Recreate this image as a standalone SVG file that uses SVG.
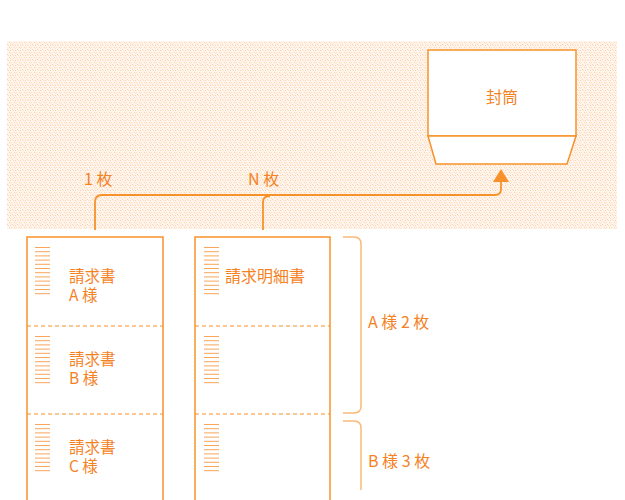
<svg xmlns="http://www.w3.org/2000/svg" width="625" height="500" viewBox="0 0 625 500">
<style>
.bg{fill:url(#dots)}
.box{fill:#fff;stroke:#f7922a;stroke-width:1.5}
.div{stroke:#f7922a;stroke-width:1.2;stroke-dasharray:4 3;fill:none}
.ln{stroke:#f7922a;stroke-width:1.8;fill:none}
.brace{stroke:#fbb878;stroke-width:1.5;fill:none}
.ic{stroke:#f9a55a;stroke-width:1}
text{font-family:"Noto Sans CJK JP","Noto Sans",sans-serif;fill:#f5821f;font-size:16px}
.two{font-size:15.5px}
</style>
<defs>
<pattern id="dots" width="5" height="5" patternUnits="userSpaceOnUse">
<rect width="5" height="5" fill="#fff5ed"/>
<rect x="0" y="0" width="1" height="1" fill="#fbcdb8"/>
<rect x="3" y="0" width="1" height="1" fill="#fde2b4"/>
<rect x="1" y="2" width="1" height="1" fill="#fde2b4"/>
<rect x="4" y="2" width="1" height="1" fill="#fbd3c2"/>
<rect x="2" y="4" width="1" height="1" fill="#fbcdb8"/>
<rect x="0" y="3" width="1" height="1" fill="#fde8c8"/>
</pattern>
<g id="icon">
<line class="ic" x1="35" y1="247.5" x2="50" y2="247.5"/>
<line class="ic" x1="35" y1="251.7" x2="50" y2="251.7"/>
<line class="ic" x1="35" y1="255.9" x2="50" y2="255.9"/>
<line class="ic" x1="35" y1="260.1" x2="50" y2="260.1"/>
<line class="ic" x1="35" y1="264.3" x2="50" y2="264.3"/>
<line class="ic" x1="35" y1="268.5" x2="50" y2="268.5"/>
<line class="ic" x1="35" y1="272.7" x2="50" y2="272.7"/>
<line class="ic" x1="35" y1="276.9" x2="50" y2="276.9"/>
<line class="ic" x1="35" y1="281.1" x2="50" y2="281.1"/>
<line class="ic" x1="35" y1="285.3" x2="50" y2="285.3"/>
<line class="ic" x1="35" y1="289.5" x2="50" y2="289.5"/>
<line class="ic" x1="35" y1="293.7" x2="50" y2="293.7"/>
</g>
</defs>
<rect class="bg" x="7" y="41" width="610" height="188"/>
<g id="envelope">
<rect class="box" x="428" y="50" width="148" height="86"/>
<path class="box" d="M428,136 L576,136 L567,164 L436,164 Z"/>
<text x="502" y="103" text-anchor="middle">封筒</text>
</g>
<g id="connectors">
<path class="ln" d="M95,230 L95,202 Q95,195 102,195 L495,195 Q501,195 501,189 L501,181"/>
<path class="ln" d="M263,230 L263,202 Q263,196 270,196"/>
<path d="M501,169 L509,182 L493,182 Z" fill="#f7922a"/>
<text x="84" y="185">1 枚</text>
<text x="248" y="185">N 枚</text>
</g>
<g id="doc1">
<path class="box" d="M27,500 L27,237 L163,237 L163,500"/>
<line class="div" x1="27" y1="326" x2="163" y2="326"/>
<line class="div" x1="27" y1="414" x2="163" y2="414"/>
<use href="#icon"/>
<use href="#icon" y="89"/>
<use href="#icon" y="177"/>
<text class="two" x="69" y="282">請求書</text>
<text class="two" x="69" y="300.5">A 様</text>
<text class="two" x="69" y="365">請求書</text>
<text class="two" x="69" y="383.5">B 様</text>
<text class="two" x="69" y="453">請求書</text>
<text class="two" x="69" y="471.5">C 様</text>
</g>
<g id="doc2">
<path class="box" d="M195,500 L195,237 L330,237 L330,500"/>
<line class="div" x1="195" y1="326" x2="330" y2="326"/>
<line class="div" x1="195" y1="414" x2="330" y2="414"/>
<use href="#icon" x="169"/>
<use href="#icon" x="169" y="89"/>
<use href="#icon" x="169" y="177"/>
<text x="225" y="282">請求明細書</text>
</g>
<g id="braceA">
<path class="brace" d="M343,237 L354,237 Q361,237 361,244 L361,406 Q361,413 354,413 L343,413"/>
<text x="368" y="328">A 様 2 枚</text>
</g>
<g id="braceB">
<path class="brace" d="M343,421 L354,421 Q361,421 361,428 L361,490"/>
<text x="368" y="467">B 様 3 枚</text>
</g>
</svg>
